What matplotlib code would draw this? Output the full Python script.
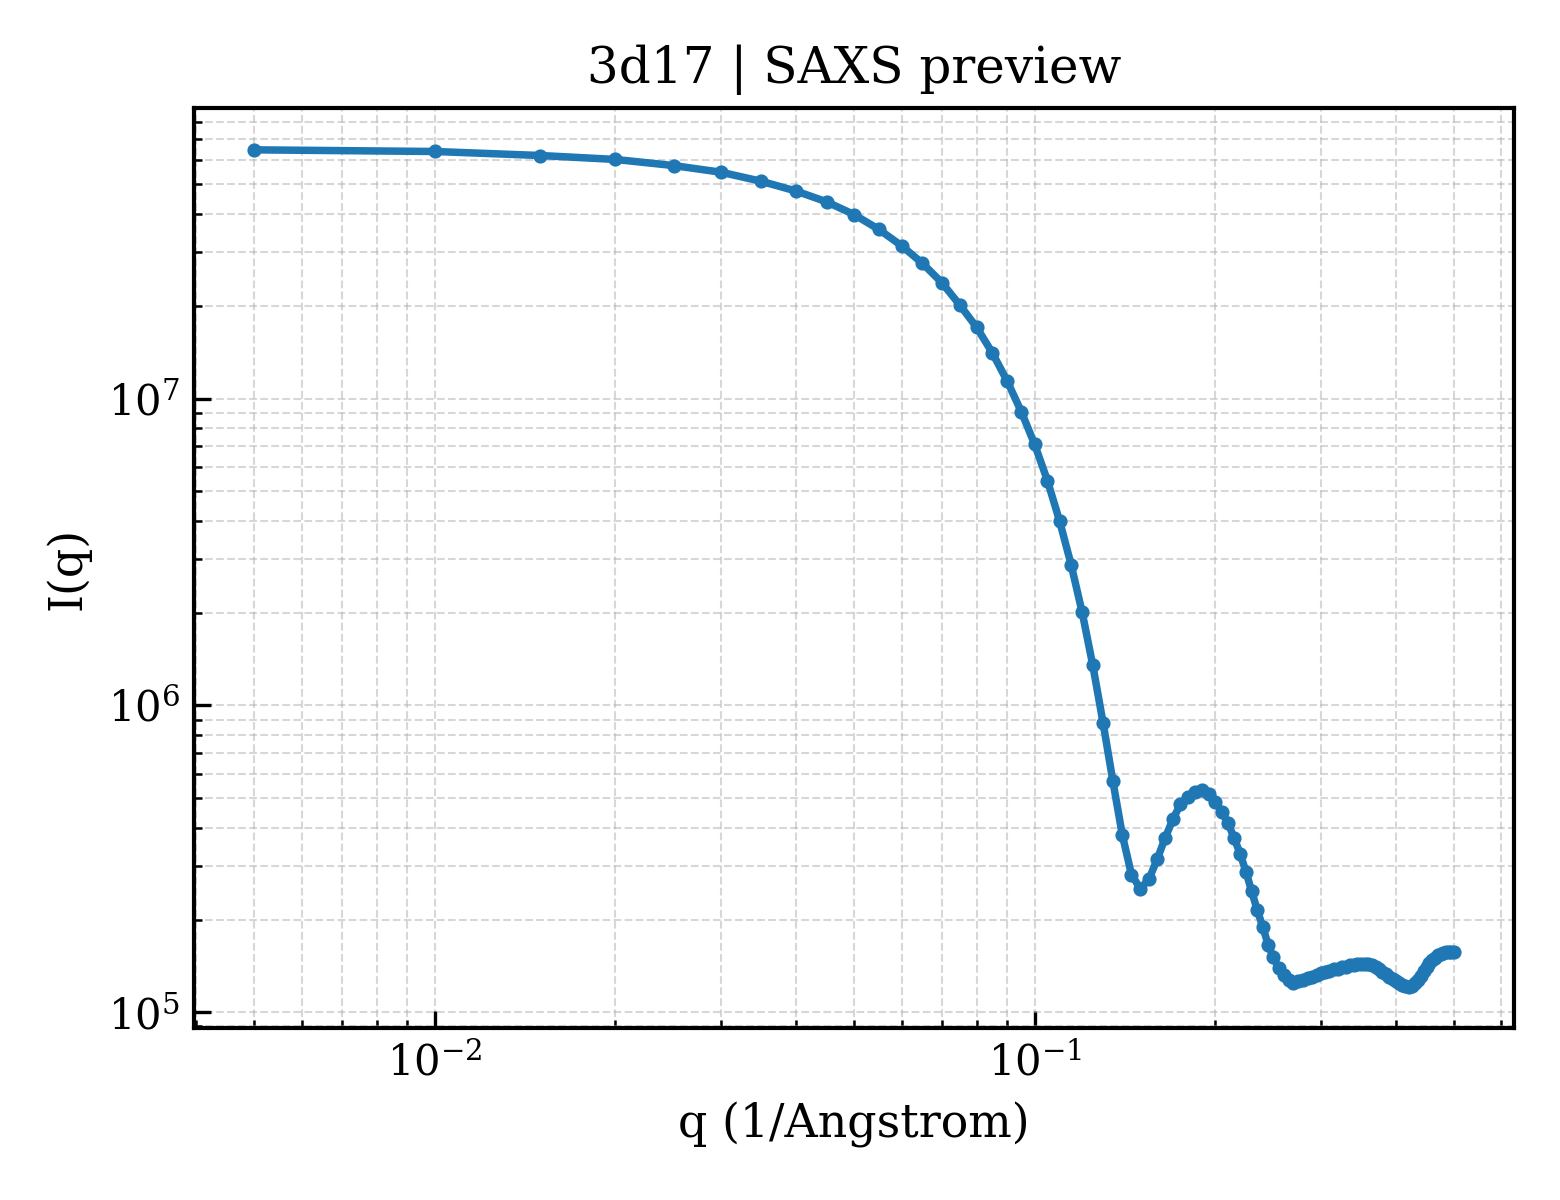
import matplotlib
matplotlib.use("Agg")
import matplotlib.pyplot as plt

# SAXS curve, q in 1/Angstrom
q = [0.005, 0.010, 0.015, 0.020, 0.025, 0.030, 0.035, 0.040, 0.045, 0.050,
     0.055, 0.060, 0.065, 0.070, 0.075, 0.080, 0.085, 0.090, 0.095, 0.100,
     0.105, 0.110, 0.115, 0.120, 0.125, 0.130, 0.135, 0.140, 0.145, 0.150,
     0.155, 0.160, 0.165, 0.170, 0.175, 0.180, 0.185, 0.190, 0.195, 0.200,
     0.205, 0.210, 0.215, 0.220, 0.225, 0.230, 0.235, 0.240, 0.245, 0.250,
     0.255, 0.260, 0.265, 0.270, 0.275, 0.280, 0.285, 0.290, 0.295, 0.300,
     0.305, 0.310, 0.315, 0.320, 0.325, 0.330, 0.335, 0.340, 0.345, 0.350,
     0.355, 0.360, 0.365, 0.370, 0.375, 0.380, 0.385, 0.390, 0.395, 0.400,
     0.405, 0.410, 0.415, 0.420, 0.425, 0.430, 0.435, 0.440, 0.445, 0.450,
     0.455, 0.460, 0.465, 0.470, 0.475, 0.480, 0.485, 0.490, 0.495, 0.500]

intensity = [6.47e7, 6.39e7, 6.20e7, 6.02e7, 5.75e7, 5.47e7, 5.11e7, 4.75e7, 4.38e7, 3.98e7,
             3.56e7, 3.15e7, 2.76e7, 2.39e7, 2.02e7, 1.71e7, 1.41e7, 1.14e7, 9.07e6, 7.09e6,
             5.41e6, 4.00e6, 2.88e6, 2.01e6, 1.35e6, 8.79e5, 5.67e5, 3.78e5, 2.81e5, 2.53e5,
             2.71e5, 3.15e5, 3.70e5, 4.26e5, 4.77e5, 5.04e5, 5.23e5, 5.30e5, 5.13e5, 4.85e5,
             4.50e5, 4.14e5, 3.70e5, 3.29e5, 2.87e5, 2.48e5, 2.15e5, 1.90e5, 1.66e5, 1.51e5,
             1.39e5, 1.32e5, 1.27e5, 1.25e5, 1.26e5, 1.274e5, 1.293e5, 1.308e5, 1.323e5, 1.338e5,
             1.353e5, 1.363e5, 1.379e5, 1.389e5, 1.400e5, 1.410e5, 1.421e5, 1.427e5, 1.432e5, 1.437e5,
             1.437e5, 1.432e5, 1.421e5, 1.405e5, 1.384e5, 1.358e5, 1.333e5, 1.308e5, 1.288e5, 1.269e5,
             1.250e5, 1.231e5, 1.217e5, 1.213e5, 1.222e5, 1.250e5, 1.279e5, 1.318e5, 1.363e5, 1.410e5,
             1.443e5, 1.476e5, 1.503e5, 1.532e5, 1.549e5, 1.561e5, 1.567e5, 1.573e5, 1.573e5, 1.567e5]

plt.rcParams['font.family'] = 'DejaVu Serif'

fig, ax = plt.subplots(figsize=(5.2, 4), dpi=300)
fig.subplots_adjust(left=0.1245, right=0.9705, top=0.91, bottom=0.143)

ax.plot(q, intensity, color='tab:blue', linewidth=1.8, marker='o', markersize=2.4)
ax.set_xscale('log')
ax.set_yscale('log')

ax.set_xlabel('q (1/Angstrom)', fontsize=11)
ax.set_ylabel('I(q)', fontsize=11)
ax.set_title('3d17 | SAXS preview', fontsize=12)

ax.tick_params(which='both', direction='in', labelsize=10)
ax.tick_params(which='major', length=4)
ax.grid(True, which='both', linestyle='--', linewidth=0.5, alpha=0.5)
for s in ax.spines.values():
    s.set_linewidth(1.0)

fig.savefig('out.png', dpi=300)
